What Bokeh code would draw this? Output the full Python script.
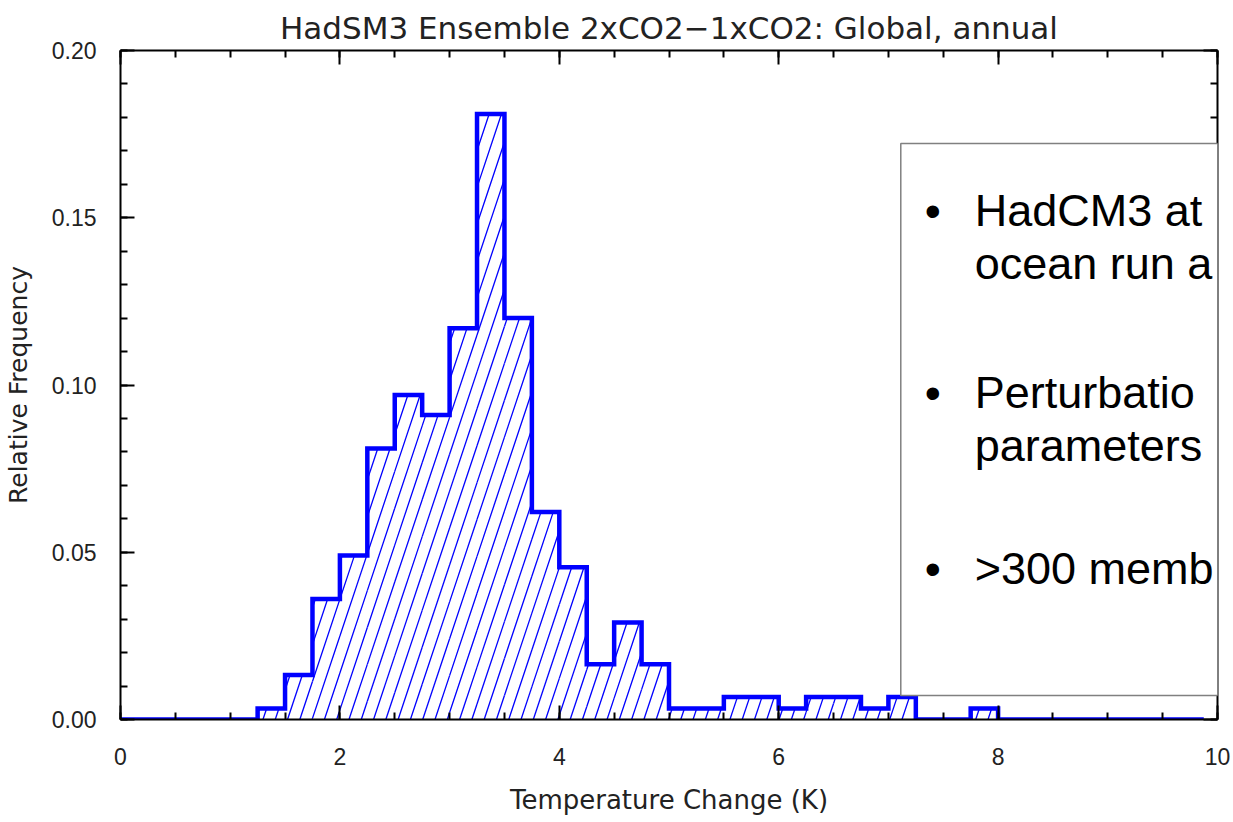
import numpy as np
from bokeh.plotting import figure
from bokeh.models import (Range1d, LinearAxis, FixedTicker, Label, BoxAnnotation,
                          PrintfTickFormatter, CustomJSTickFormatter)
from bokeh.embed import file_html
from bokeh.resources import INLINE

# ---------------- data ----------------
title_text = "HadSM3 Ensemble 2xCO2\u22121xCO2: Global, annual"
x_label = "Temperature Change (K)"
y_label = "Relative Frequency"

bin_width = 0.25
bin_lefts = [0.00, 0.25, 0.50, 0.75, 1.00, 1.25, 1.50, 1.75, 2.00, 2.25,
             2.50, 2.75, 3.00, 3.25, 3.50, 3.75, 4.00, 4.25, 4.50, 4.75,
             5.00, 5.25, 5.50, 5.75, 6.00, 6.25, 6.50, 6.75, 7.00, 7.25,
             7.50, 7.75, 8.00, 8.25, 8.50, 8.75, 9.00, 9.25, 9.50, 9.75]
rel_freq = [0.0, 0.0, 0.0, 0.0, 0.0, 0.0033, 0.0133, 0.0360, 0.0490, 0.0810,
            0.0970, 0.0910, 0.1170, 0.1810, 0.1200, 0.0620, 0.0455, 0.0165, 0.0290, 0.0165,
            0.0033, 0.0033, 0.0067, 0.0067, 0.0033, 0.0067, 0.0067, 0.0033, 0.0067, 0.0,
            0.0, 0.0033, 0.0, 0.0, 0.0, 0.0, 0.0, 0.0, 0.0, 0.0]
outline_end = 9.875

x_major = [0, 2, 4, 6, 8, 10]
x_minor = [0, 0.5, 1, 1.5, 2, 2.5, 3, 3.5, 4, 4.5, 5, 5.5, 6, 6.5, 7, 7.5, 8, 8.5, 9, 9.5, 10]
y_major = [0.0, 0.05, 0.10, 0.15, 0.20]
y_minor = [0.0, 0.01, 0.02, 0.03, 0.04, 0.05, 0.06, 0.07, 0.08, 0.09, 0.10,
           0.11, 0.12, 0.13, 0.14, 0.15, 0.16, 0.17, 0.18, 0.19, 0.20]

box_lines = ["HadCM3 at", "ocean run a", "Perturbatio", "parameters", ">300 memb"]
box_bullets = [True, False, True, False, True]

# ---------------- figure ----------------
W, H = 1233, 822
ML, MR, MT, MB = 119, 16, 50, 103
X0, X1, Y0, Y1 = 0, 10, 0, 0.2

p = figure(width=W, height=H, output_backend="svg", toolbar_location=None,
           x_range=Range1d(X0, X1), y_range=Range1d(Y0, Y1),
           min_border_left=ML, min_border_right=MR, min_border_top=MT, min_border_bottom=MB)
p.grid.visible = False
p.outline_line_color = None
p.background_fill_color = "white"
p.border_fill_color = "white"

frame_w = W - ML - MR
frame_h = H - MT - MB
ppx = frame_w / (X1 - X0)
ppy = frame_h / (Y1 - Y0)

TICK_FONT = "Liberation Sans"
LBL_FONT = "DejaVu Sans"
TXT_COL = "#222222"

p.title.text = title_text
p.title.align = "center"
p.title.text_font = LBL_FONT
p.title.text_font_size = "31px"
p.title.text_font_style = "normal"
p.title.text_color = TXT_COL
p.title.standoff = 10


def style_axis(ax):
    ax.axis_line_color = "black"
    ax.axis_line_width = 2
    ax.major_tick_line_color = "black"
    ax.major_tick_line_width = 2
    ax.minor_tick_line_color = "black"
    ax.minor_tick_line_width = 2
    ax.major_tick_in = 14
    ax.major_tick_out = 0
    ax.minor_tick_in = 7
    ax.minor_tick_out = 0
    ax.major_label_text_font = TICK_FONT
    ax.major_label_text_font_size = "23px"
    ax.major_label_text_color = TXT_COL
    ax.axis_label_text_font = LBL_FONT
    ax.axis_label_text_font_style = "normal"
    ax.axis_label_text_color = TXT_COL


xax = p.xaxis[0]
yax = p.yaxis[0]
xax.ticker = FixedTicker(ticks=x_major, minor_ticks=x_minor)
yax.ticker = FixedTicker(ticks=y_major, minor_ticks=y_minor)
yax.formatter = PrintfTickFormatter(format="%.2f")
xax.formatter = PrintfTickFormatter(format="%d")
style_axis(xax)
style_axis(yax)
xax.axis_label = x_label
yax.axis_label = y_label
xax.axis_label_text_font_size = "26px"
yax.axis_label_text_font_size = "25px"
xax.major_label_standoff = 28
xax.axis_label_standoff = 17
yax.major_label_standoff = 24
yax.axis_label_standoff = 16

top_ax = LinearAxis(ticker=FixedTicker(ticks=x_major, minor_ticks=x_minor))
right_ax = LinearAxis(ticker=FixedTicker(ticks=y_major, minor_ticks=y_minor))
for ax in (top_ax, right_ax):
    style_axis(ax)
    ax.formatter = CustomJSTickFormatter(code="return '';")
    ax.major_label_standoff = 0
    ax.axis_label = None
p.add_layout(top_ax, "above")
p.add_layout(right_ax, "right")

# ---------------- hatch (steep diagonal lines inside histogram) ----------------
slope_px = 3.0          # dy/dx of hatch lines on screen
spacing_px = 12.3       # horizontal spacing of hatch lines on screen
k = (ppy / ppx) / slope_px
dx = spacing_px / ppx
offsets = np.arange(X0 - max(rel_freq) * k - dx, X1 + dx, dx)
hx0, hy0, hx1, hy1 = [], [], [], []
for l, h in zip(bin_lefts, rel_freq):
    if h <= 0:
        continue
    r = l + bin_width
    for c in offsets:
        ylo = max(0.0, (l - c) / k)
        yhi = min(h, (r - c) / k)
        if yhi > ylo:
            hx0.append(c + ylo * k); hy0.append(ylo)
            hx1.append(c + yhi * k); hy1.append(yhi)
p.segment(hx0, hy0, hx1, hy1, line_color="#0000ff", line_width=1.3)

# ---------------- outline (step) ----------------
ox, oy = [bin_lefts[0]], [0.0]
for l, h in zip(bin_lefts, rel_freq):
    ox += [l, l + bin_width]
    oy += [h, h]
ox.append(ox[-1]); oy.append(0.0)
ox = [min(v, outline_end) for v in ox]
p.line(ox, oy, line_color="#0000ff", line_width=4.5, line_join="miter")

# ---------------- text box ----------------
def px_to_x(px):
    return X0 + (px - ML) / ppx

def py_to_y(py):
    return Y0 + (MT + frame_h - py) / ppy

box = BoxAnnotation(left=px_to_x(900), right=px_to_x(1260),
                    top=py_to_y(143), bottom=py_to_y(695),
                    fill_color="white", fill_alpha=1.0,
                    line_color="#808080", line_alpha=1.0, line_width=1.5)
p.add_layout(box)

baselines = [210, 263, 392, 445, 568]
for txt, bul, by in zip(box_lines, box_bullets, baselines):
    if bul:
        p.add_layout(Label(x=px_to_x(932), y=py_to_y(by), text="\u2022",
                           text_align="center", text_baseline="alphabetic",
                           text_font="Liberation Sans", text_font_size="46px",
                           text_color="black"))
    p.add_layout(Label(x=px_to_x(974), y=py_to_y(by), text=txt,
                       text_align="left", text_baseline="alphabetic",
                       text_font="Liberation Sans", text_font_size="45px",
                       text_color="black"))

open("out.html", "w").write(file_html(p, INLINE))
